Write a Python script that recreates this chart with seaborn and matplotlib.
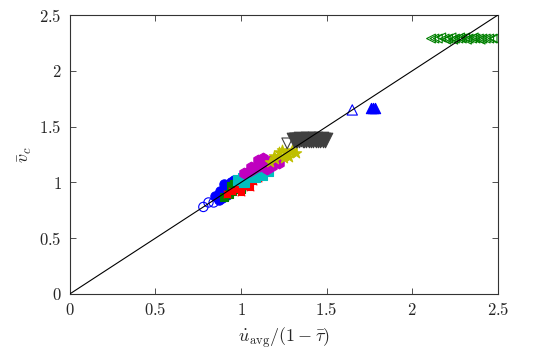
import numpy as np
import pandas as pd
import matplotlib
matplotlib.use("Agg")
import matplotlib.pyplot as plt
import seaborn as sns
from matplotlib.ticker import FixedLocator, FixedFormatter

sns.set_style("ticks")
plt.rcParams["mathtext.fontset"] = "cm"
plt.rcParams["font.family"] = ["DejaVu Serif"]

# ---- data ----
blue_open_x = [0.78, 0.81, 0.84, 0.87]
blue_open_y = [0.78, 0.82, 0.82, 0.85]
blue_fill_x = [0.85, 0.87, 0.88, 0.90, 0.91, 0.92, 0.93, 0.94, 0.95, 0.89, 0.92, 0.96, 0.87, 0.90]
blue_fill_y = [0.88, 0.90, 0.92, 0.94, 0.96, 0.92, 0.98, 1.00, 0.97, 0.86, 0.89, 1.02, 0.84, 0.99]
green_x = [0.90, 0.93, 0.95, 0.97, 0.99, 1.01, 1.03, 1.05, 0.96, 1.00, 1.07, 0.94]
green_y = [0.87, 0.90, 0.92, 0.95, 0.97, 1.00, 1.02, 1.04, 0.99, 0.94, 1.06, 0.97]
red_x = [0.92, 0.95, 0.98, 1.01, 1.04, 1.07, 1.10, 1.00, 1.05, 1.12]
red_y = [0.90, 0.92, 0.94, 0.97, 0.99, 1.01, 1.04, 0.91, 0.96, 1.06]
cyan_x = [0.98, 1.01, 1.04, 1.07, 1.10, 1.13, 1.16, 1.02, 1.08, 1.12]
cyan_y = [1.02, 1.04, 1.06, 1.08, 1.10, 1.12, 1.10, 1.00, 1.05, 1.07]
mag_x = [1.02, 1.05, 1.08, 1.11, 1.14, 1.17, 1.20, 1.10, 1.15, 1.22, 1.06, 1.13, 1.18]
mag_y = [1.08, 1.10, 1.13, 1.15, 1.17, 1.19, 1.21, 1.20, 1.12, 1.17, 1.14, 1.22, 1.15]
yel_x = [1.17, 1.20, 1.23, 1.26, 1.29, 1.32, 1.25, 1.22, 1.28, 1.19, 1.24, 1.30]
yel_y = [1.18, 1.21, 1.24, 1.26, 1.27, 1.26, 1.22, 1.27, 1.23, 1.24, 1.29, 1.29]
gray_open_x = [1.27]
gray_open_y = [1.35]
gray_fill_x = [1.31, 1.32, 1.33, 1.34, 1.35, 1.36, 1.37, 1.38, 1.39, 1.40, 1.41, 1.42,
               1.43, 1.44, 1.45, 1.46, 1.47, 1.48, 1.49]
gray_fill_y = [1.38, 1.38, 1.38, 1.38, 1.39, 1.38, 1.38, 1.38, 1.39, 1.38, 1.38, 1.38,
               1.39, 1.38, 1.38, 1.38, 1.39, 1.38, 1.38]
tri_open_x = [1.65]
tri_open_y = [1.65]
tri_fill_x = [1.76, 1.77, 1.78]
tri_fill_y = [1.67, 1.67, 1.67]
gl_x = [2.11, 2.13, 2.15, 2.17, 2.19, 2.21, 2.23, 2.25, 2.27, 2.29, 2.31, 2.33, 2.35,
        2.37, 2.39, 2.41, 2.43, 2.45, 2.47, 2.48, 2.20, 2.24, 2.28, 2.32, 2.36, 2.40]
gl_y = [2.29, 2.29, 2.29, 2.30, 2.29, 2.29, 2.30, 2.29, 2.29, 2.29, 2.30, 2.29, 2.29,
        2.29, 2.29, 2.29, 2.29, 2.29, 2.29, 2.29, 2.28, 2.28, 2.30, 2.28, 2.30, 2.28]
diag = [0.0, 2.5]
ticks = [0, 0.5, 1, 1.5, 2, 2.5]
tick_labels = ["$0$", "$0.5$", "$1$", "$1.5$", "$2$", "$2.5$"]

fig = plt.figure(figsize=(5.5, 3.52), dpi=100)
ax = fig.add_axes([0.127, 0.165, 0.778, 0.792])

sns.lineplot(x=diag, y=diag, color="black", linewidth=0.8, ax=ax, zorder=5)

def pts(x, y, marker, color, filled, s):
    if filled:
        sns.scatterplot(x=x, y=y, marker=marker, s=s, color=color, edgecolor=color,
                        linewidth=0.8, ax=ax, zorder=3)
    else:
        sns.scatterplot(x=x, y=y, marker=marker, s=s, facecolor="none", edgecolor=color,
                        linewidth=0.8, ax=ax, zorder=3)

pts(blue_open_x, blue_open_y, "o", "#0000ff", False, 45)
pts(blue_fill_x, blue_fill_y, "o", "#0000ff", True, 45)
pts(green_x, green_y, "s", "#008000", True, 30)
pts(red_x, red_y, "x", "#ff0000", True, 30)
pts(red_x, red_y, "s", "#ff0000", True, 20)
pts(cyan_x, cyan_y, "s", "#00bfbf", True, 45)
pts(mag_x, mag_y, "h", "#bf00bf", True, 60)
pts(yel_x, yel_y, "*", "#bfbf00", True, 60)
pts(gray_open_x, gray_open_y, "v", "#404040", False, 60)
pts(gray_fill_x, gray_fill_y, "v", "#404040", True, 110)
pts(tri_open_x, tri_open_y, "^", "#0000ff", False, 55)
pts(tri_fill_x, tri_fill_y, "^", "#0000ff", True, 55)
pts(gl_x, gl_y, "<", "#008000", False, 40)

ax.set_xlim(0, 2.5)
ax.set_ylim(0, 2.5)
ax.xaxis.set_major_locator(FixedLocator(ticks))
ax.xaxis.set_major_formatter(FixedFormatter(tick_labels))
ax.yaxis.set_major_locator(FixedLocator(ticks))
ax.yaxis.set_major_formatter(FixedFormatter(tick_labels))
ax.tick_params(direction="in", top=True, right=True, length=4, width=0.6,
               color="#333333", labelsize=12, pad=6)
for sp in ax.spines.values():
    sp.set_visible(True)
    sp.set_color("#333333")
    sp.set_linewidth(0.8)
ax.set_xlabel(r"$\dot{u}_{\mathrm{avg}}/(1-\bar{\tau})$", fontsize=13, labelpad=4)
ax.set_ylabel(r"$\bar{v}_c$", fontsize=13, labelpad=4)

fig.savefig("out.png", dpi=100)
